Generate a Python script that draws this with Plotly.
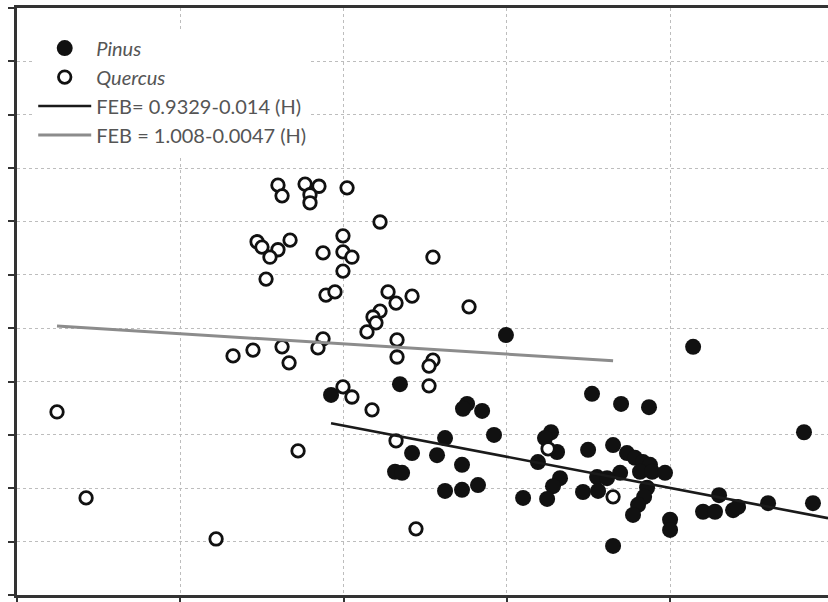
import plotly.graph_objects as go

# Quercus (open circles): H, FEB
quercus_h = [2.45, 4.23, 12.19, 13.23, 14.45, 16.23, 16.66, 17.21, 15.98, 16.23,
             17.64, 18.49, 17.94, 17.94, 20.21, 22.23, 14.70, 15.00, 16.72, 15.98,
             15.49, 15.25, 18.74, 19.96, 19.96, 20.51, 19.96, 18.92, 19.47, 22.72,
             23.21, 24.19, 22.23, 21.80, 21.43, 21.98, 27.68, 25.47, 18.74, 18.43,
             23.27, 23.27, 25.47, 25.23, 25.23, 19.96, 20.51, 21.74, 23.21, 24.43,
             32.52, 36.50]
quercus_feb = [0.343, 0.182, 0.105, 0.448, 0.459, 0.465, 0.435, 0.270, 0.768, 0.748,
               0.770, 0.766, 0.750, 0.735, 0.763, 0.699, 0.662, 0.652, 0.665, 0.647,
               0.633, 0.592, 0.641, 0.673, 0.643, 0.633, 0.607, 0.562, 0.568, 0.568,
               0.547, 0.560, 0.532, 0.521, 0.493, 0.510, 0.540, 0.633, 0.480, 0.463,
               0.478, 0.446, 0.440, 0.429, 0.392, 0.390, 0.371, 0.347, 0.289, 0.124,
               0.274, 0.184]

# Pinus (filled circles): H, FEB
pinus_h = [29.94, 41.40, 23.45, 19.23, 35.21, 36.99, 38.70, 27.56, 27.31, 28.48,
           48.19, 26.21, 29.21, 24.19, 25.72, 27.25, 23.15, 23.58, 26.21, 27.25,
           28.23, 30.99, 32.70, 32.33, 33.07, 31.90, 33.25, 32.82, 32.46, 34.97,
           35.52, 36.13, 34.66, 35.58, 36.50, 37.35, 37.84, 38.33, 38.76, 36.93,
           38.15, 38.89, 39.68, 38.58, 38.40, 38.03, 37.72, 39.99, 39.99, 36.50,
           42.99, 42.01, 42.74, 43.85, 44.15, 45.99, 48.74]
pinus_feb = [0.487, 0.465, 0.395, 0.375, 0.377, 0.358, 0.352, 0.358, 0.349, 0.345,
             0.305, 0.294, 0.300, 0.266, 0.262, 0.244, 0.231, 0.229, 0.195, 0.197,
             0.206, 0.182, 0.305, 0.294, 0.268, 0.249, 0.219, 0.204, 0.180, 0.272,
             0.221, 0.219, 0.193, 0.195, 0.281, 0.266, 0.257, 0.249, 0.244, 0.229,
             0.231, 0.231, 0.229, 0.201, 0.184, 0.169, 0.150, 0.141, 0.122, 0.092,
             0.187, 0.156, 0.156, 0.159, 0.165, 0.172, 0.172]

# Fitted lines (end points as drawn)
pinus_fit_h = [19.23, 49.66]
pinus_fit_feb = [0.322, 0.144]
quercus_fit_h = [2.45, 36.50]
quercus_fit_feb = [0.504, 0.439]

labels = ["<i>Pinus</i>", "<i>Quercus</i>",
          "FEB= 0.9329-0.014 (H)", "FEB = 1.008-0.0047 (H)"]

fig = go.Figure()
fig.add_trace(go.Scatter(x=pinus_h, y=pinus_feb, mode="markers", name=labels[0],
                         legendgroup="a",
                         marker=dict(size=16, color="#111111", line=dict(width=0))))
fig.add_trace(go.Scatter(x=quercus_h, y=quercus_feb, mode="markers", name=labels[1],
                         legendgroup="b",
                         marker=dict(size=12.5, color="white",
                                     line=dict(width=2.8, color="#111111"))))
fig.add_trace(go.Scatter(x=pinus_fit_h, y=pinus_fit_feb, mode="lines", name=labels[2],
                         legendgroup="c",
                         line=dict(color="#1a1a1a", width=2.6)))
fig.add_trace(go.Scatter(x=quercus_fit_h, y=quercus_fit_feb, mode="lines", name=labels[3],
                         legendgroup="d",
                         line=dict(color="#8c8c8c", width=3)))

axis_common = dict(showgrid=True, gridcolor="#bdbdbd", griddash="dot", gridwidth=1,
                   zeroline=False, showline=True, linecolor="#333333", linewidth=2.5,
                   ticks="outside", tickcolor="#333333", tickwidth=2,
                   showticklabels=False)

fig.update_xaxes(range=[0, 49.66], dtick=10, tick0=0, mirror=True, ticklen=7,
                 **axis_common)
fig.update_yaxes(range=[0, 1.1], dtick=0.1, tick0=0, ticklen=6, **axis_common)

fig.update_layout(
    width=828, height=602,
    margin=dict(l=17, r=0, t=8, b=7),
    paper_bgcolor="white", plot_bgcolor="white",
    showlegend=True,
    legend=dict(x=0.02, y=0.965, xanchor="left", yanchor="top",
                bgcolor="white", borderwidth=0,
                font=dict(family="Lato", size=20, color="#555555"),
                itemwidth=53, tracegroupgap=8, traceorder="normal"),
)

fig.write_html("out.html", config={"displayModeBar": False},
               post_script="document.body.style.margin='0';document.body.style.overflow='hidden';")
